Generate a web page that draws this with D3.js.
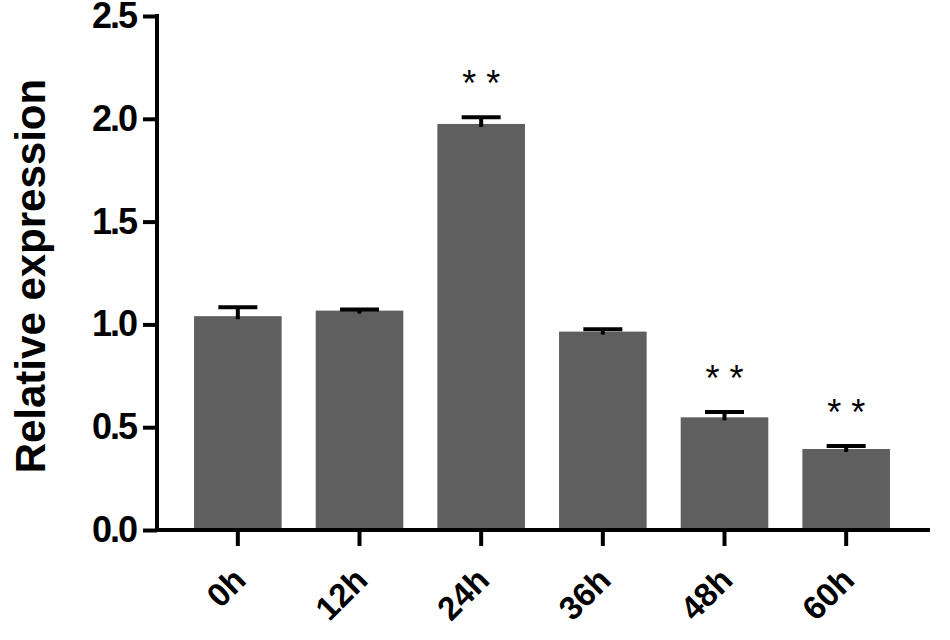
<!DOCTYPE html>
<html>
<head>
<meta charset="utf-8">
<script src="https://cdn.jsdelivr.net/npm/d3@7"></script>
<style>
  body { margin: 0; background: #fff; }
  svg text { font-family: "Liberation Sans", Arial, sans-serif; }
</style>
</head>
<body>
<svg id="chart" width="950" height="640"></svg>
<script>
"use strict"

// values
let groups = ["0h", "12h", "24h", "36h", "48h", "60h"];
let means = [1.04, 1.067, 1.975, 0.965, 0.548, 0.394];
let errors = [0.043, 0.006, 0.032, 0.011, 0.026, 0.014];
let marks = ["", "", "**", "", "**", "**"];
let yTicks = [0.0, 0.5, 1.0, 1.5, 2.0, 2.5];

let svg = d3.select("#chart");

// y axis sits at x=157, plot from y=16 (2.5) to y=530 (0)
let axisX = 157;
let x = d3.scaleBand()
    .domain(groups)
    .range([177, 907])
    .paddingInner(0.28)
    .paddingOuter(0.14);

let y = d3.scaleLinear()
    .domain([0, 2.5])
    .range([530, 16]);

// bars
svg.selectAll(".bar")
    .data(groups)
    .enter()
    .append("rect")
    .attr("class", "bar")
    .attr("x", d => x(d))
    .attr("width", x.bandwidth())
    .attr("y", (d, i) => y(means[i]))
    .attr("height", (d, i) => y(0) - y(means[i]))
    .attr("fill", "#5f5f5f");

// error bars (upper only)
let capW = 39;
let err = svg.append("g");
groups.forEach(function (g, i) {
    let cx = x(g) + x.bandwidth() / 2;
    err.append("line")
        .attr("x1", cx).attr("x2", cx)
        .attr("y1", y(means[i]) + 3)
        .attr("y2", y(means[i] + errors[i]))
        .attr("stroke", "#000")
        .attr("stroke-width", 4);
    err.append("line")
        .attr("x1", cx - capW / 2).attr("x2", cx + capW / 2)
        .attr("y1", y(means[i] + errors[i]))
        .attr("y2", y(means[i] + errors[i]))
        .attr("stroke", "#000")
        .attr("stroke-width", 4);
});

// significance marks, centred ~42px above the cap
svg.selectAll(".sig")
    .data(groups)
    .enter()
    .append("text")
    .attr("class", "sig")
    .attr("x", d => x(d) + x.bandwidth() / 2 + 5)
    .attr("y", (d, i) => y(means[i] + errors[i]) - 42)
    .attr("dy", "0.57em")
    .attr("text-anchor", "middle")
    .style("font-size", "36px")
    .style("letter-spacing", "10px")
    .text((d, i) => marks[i]);

// y axis
let yAxis = svg.append("g")
    .attr("transform", "translate(" + axisX + ",0)")
    .call(d3.axisLeft(y)
        .tickValues(yTicks)
        .tickFormat(d3.format(".1f"))
        .tickSize(14)
        .tickSizeOuter(0)
        .tickPadding(7));
yAxis.select(".domain")
    .attr("stroke-width", 4)
    .attr("d", "M0," + (y(2.5) - 2) + "V" + (y(0) + 2));
yAxis.selectAll(".tick line").attr("stroke-width", 4);
yAxis.selectAll(".tick text")
    .attr("fill", "#000")
    .style("font-size", "36px")
    .style("font-weight", "bold")
    .style("letter-spacing", "-2px");

// x axis
let xAxis = svg.append("g")
    .attr("transform", "translate(0," + y(0) + ")")
    .call(d3.axisBottom(x).tickSize(16).tickSizeOuter(0));
xAxis.select(".domain")
    .attr("stroke-width", 4)
    .attr("d", "M" + (axisX - 2) + ",0H" + (x.range()[1] + 23));
xAxis.selectAll(".tick line").attr("stroke-width", 4);
xAxis.selectAll(".tick text")
    .attr("fill", "#000")
    .attr("x", 0)
    .attr("y", 0)
    .attr("dy", 0)
    .style("font-size", "33px")
    .style("font-weight", "bold")
    .attr("text-anchor", "end")
    .attr("transform", "translate(10,52) rotate(-45)");

// y title
svg.append("text")
    .attr("transform", "translate(45," + y(1.235) + ") rotate(-90)")
    .attr("text-anchor", "middle")
    .style("font-size", "42px")
    .style("font-weight", "bold")
    .text("Relative expression");
</script>
</body>
</html>
